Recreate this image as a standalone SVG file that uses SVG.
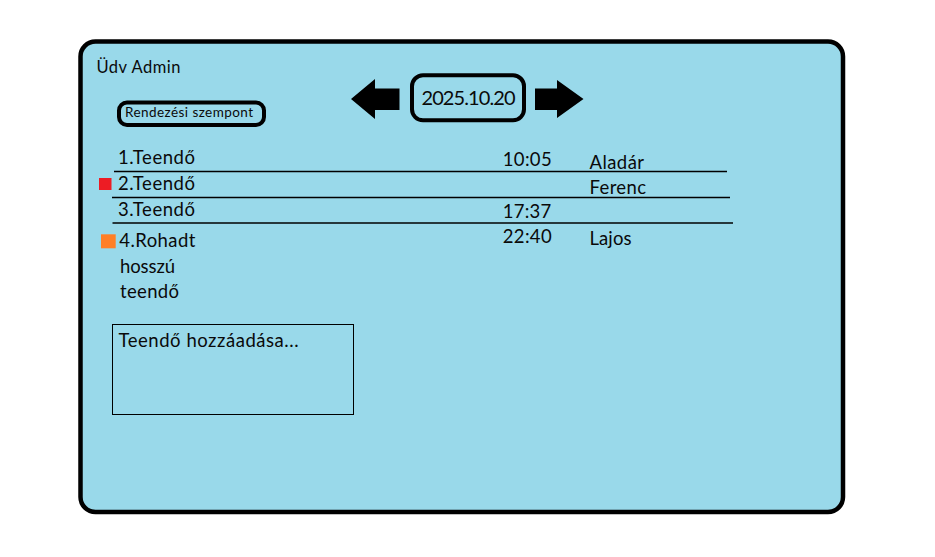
<svg xmlns="http://www.w3.org/2000/svg" width="935" height="557" viewBox="0 0 935 557">
<style>
text{font-family:Lato,"Open Sans","Liberation Sans",sans-serif;fill:#0a0a0a;}
.row{font-size:18.5px;}
.thick{fill:none;stroke:#000;stroke-width:4;}
.sep{stroke:#000;stroke-width:1.4;}
.arrow{fill:#000;}
</style>
<rect width="935" height="557" fill="#fff"/>
<g id="frame">
<rect x="80.5" y="41.5" width="762.5" height="470.5" rx="15" fill="#99D9EA" stroke="#000" stroke-width="4.5"/>
</g>
<g id="greeting">
<text x="96.5" y="72.7" font-size="16.5" textLength="84">Üdv Admin</text>
</g>
<g id="sort-button">
<rect class="thick" x="119" y="102.5" width="145" height="22.5" rx="8"/>
<text x="125" y="116.5" font-size="13.5" textLength="128">Rendezési szempont</text>
</g>
<g id="prev-arrow">
<polygon class="arrow" points="351,99 375,79 375,88.5 399.5,88.5 399.5,110 375,110 375,119"/>
</g>
<g id="date">
<rect class="thick" x="412" y="75.3" width="112" height="45" rx="11"/>
<text x="421.5" y="104.5" font-size="20" textLength="94">2025.10.20</text>
</g>
<g id="next-arrow">
<polygon class="arrow" points="583.5,99 557,80 557,88.5 535,88.5 535,110 557,110 557,118"/>
</g>
<g id="list">
<line class="sep" x1="114" y1="171.5" x2="727" y2="171.5"/>
<line class="sep" x1="112" y1="197.5" x2="730" y2="197.5"/>
<line class="sep" x1="112.5" y1="223" x2="733" y2="223"/>
</g>
<g id="item1">
<text class="row" x="118" y="164" textLength="77">1.Teendő</text>
<text class="row" x="502.7" y="165.7" textLength="49">10:05</text>
<text class="row" x="589.5" y="169" textLength="54.5">Aladár</text>
</g>
<g id="item2">
<rect x="99" y="178" width="12.5" height="12" fill="#ED1C24"/>
<text class="row" x="118" y="190" textLength="77">2.Teendő</text>
<text class="row" x="589.5" y="194.3" textLength="56.5">Ferenc</text>
</g>
<g id="item3">
<text class="row" x="118" y="215.7" textLength="77">3.Teendő</text>
<text class="row" x="502.7" y="218.3" textLength="48.5">17:37</text>
</g>
<g id="item4">
<rect x="101" y="234.3" width="14.7" height="14" fill="#FF7F27"/>
<text class="row" x="119.3" y="246.7" textLength="76">4.Rohadt</text>
<text class="row" x="120" y="273.3" textLength="55">hosszú</text>
<text class="row" x="120" y="298.3" textLength="59">teendő</text>
<text class="row" x="502.7" y="243.3" textLength="49">22:40</text>
<text class="row" x="589.5" y="245" textLength="42">Lajos</text>
</g>
<g id="add-box">
<rect x="112.5" y="324.5" width="241" height="90" fill="none" stroke="#000" stroke-width="1"/>
<text class="row" x="118.5" y="347" textLength="180">Teendő hozzáadása...</text>
</g>
</svg>
